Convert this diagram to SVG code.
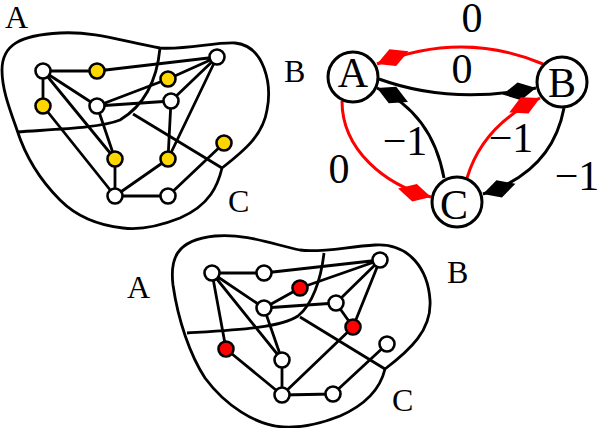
<svg xmlns="http://www.w3.org/2000/svg" width="600" height="428" viewBox="0 0 600 428">
<style>
.bd{fill:none;stroke:#000;stroke-width:2.8}
.e{fill:none;stroke:#000;stroke-width:2.8}
.v{fill:#fff;stroke:#000;stroke-width:2.6}
.y{fill:#FFD700}
.r{fill:#FF0000}
.t{font-family:"Liberation Serif","Times New Roman",serif;fill:#000}
.lab{font-size:32px}
.big{font-size:42px;text-anchor:middle}
.ge{fill:none;stroke-width:3}
.gk{stroke:#000}
.gr{stroke:#FF0000}
.nc{fill:#fff;stroke:#000;stroke-width:3}
</style>
<defs>
<marker id="ak" markerUnits="userSpaceOnUse" viewBox="-36 -11 38 22" refX="0" refY="0" markerWidth="38" markerHeight="22" orient="auto">
<path d="M0,0 L-17,-9 L-34,0 L-17,9 Z" fill="#000"/>
</marker>
<marker id="ar" markerUnits="userSpaceOnUse" viewBox="-36 -11 38 22" refX="0" refY="0" markerWidth="38" markerHeight="22" orient="auto">
<path d="M0,0 L-17,-9 L-34,0 L-17,9 Z" fill="#FF0000"/>
</marker>
</defs>

<!-- top-left partitioned graph -->
<g id="regions-top">
<path class="bd" d="M2,70 C2,45 20,35 60,33 C95,31 125,42 160,48 C185,50 215,42 235,43 C265,46 272,85 267,110 C263,135 245,150 222,168 C218,185 210,205 180,218 C160,226 140,230 123,228 C95,225 75,215 60,200 C40,180 25,155 17,130 C10,110 2,90 2,70 Z"/>
<path class="bd" d="M160,48 C157,80 145,105 120,120 C100,128 60,129 17,132"/>
<path class="bd" d="M133,114 L222,168"/>
</g>
<g id="connectors-top">
<path class="e" d="M43,71 L97,71 M97,71 L217,57 M43,71 L43,106 M43,71 L97,106 M43,71 L115,159 M43,106 L115,196 M97,106 L168,79 M168,79 L217,57 M97,106 L171,101 M97,106 L115,159 M217,57 L171,101 M217,57 L168,159 M171,101 L168,159 M115,159 L115,196 M168,159 L115,196 M115,196 L168,196 M168,196 L224,143"/>
</g>
<g id="t-n1"><circle class="v" cx="43" cy="71" r="7.5"/></g>
<g id="t-n2"><circle class="v y" cx="97" cy="71" r="7.5"/></g>
<g id="t-n3"><circle class="v" cx="217" cy="57" r="7.5"/></g>
<g id="t-n4"><circle class="v y" cx="168" cy="79" r="7.5"/></g>
<g id="t-n5"><circle class="v y" cx="43" cy="106" r="7.5"/></g>
<g id="t-n6"><circle class="v" cx="97" cy="106" r="7.5"/></g>
<g id="t-n7"><circle class="v" cx="171" cy="101" r="7.5"/></g>
<g id="t-n8"><circle class="v y" cx="115" cy="159" r="7.5"/></g>
<g id="t-n9"><circle class="v y" cx="168" cy="159" r="7.5"/></g>
<g id="t-n10"><circle class="v y" cx="224" cy="143" r="7.5"/></g>
<g id="t-n11"><circle class="v" cx="115" cy="196" r="7.5"/></g>
<g id="t-n12"><circle class="v" cx="168" cy="196" r="7.5"/></g>
<text class="t lab" x="5" y="28">A</text>
<text class="t lab" x="284" y="82">B</text>
<text class="t lab" x="228" y="212">C</text>

<!-- bottom partitioned graph -->
<g id="regions-bottom">
<path class="bd" d="M173,285 C170,260 175,240 215,236 C245,233 275,245 300,250 C320,253 345,247 375,245 C410,243 428,270 430,300 C432,330 410,350 385,369 C380,390 365,405 340,416 C320,424 300,428 283,427 C255,425 225,405 205,378 C190,355 178,320 173,285 Z"/>
<path class="bd" d="M324,253 C321,280 312,305 298,316 C280,328 235,330 187,333"/>
<path class="bd" d="M300,317 L385,369"/>
</g>
<g id="connectors-bottom">
<path class="e" d="M212,273 L264,273 M264,273 L380,260 M212,273 L226,349 M212,273 L264,308 M212,273 L282,360 M264,308 L300,288 M300,288 L380,260 M264,308 L336,303 M264,308 L282,360 M336,303 L380,260 M380,260 L353,327 M336,303 L353,327 M353,327 L282,395 M226,349 L282,395 M282,360 L282,395 M282,395 L333,394 M333,394 L387,344"/>
</g>
<g id="b-n1"><circle class="v" cx="212" cy="273" r="7.5"/></g>
<g id="b-n2"><circle class="v" cx="264" cy="273" r="7.5"/></g>
<g id="b-n3"><circle class="v" cx="380" cy="260" r="7.5"/></g>
<g id="b-n4"><circle class="v r" cx="300" cy="288" r="7.5"/></g>
<g id="b-n5"><circle class="v" cx="264" cy="308" r="7.5"/></g>
<g id="b-n6"><circle class="v" cx="336" cy="303" r="7.5"/></g>
<g id="b-n7"><circle class="v r" cx="353" cy="327" r="7.5"/></g>
<g id="b-n8"><circle class="v r" cx="226" cy="349" r="7.5"/></g>
<g id="b-n9"><circle class="v" cx="282" cy="360" r="7.5"/></g>
<g id="b-n10"><circle class="v" cx="387" cy="344" r="7.5"/></g>
<g id="b-n11"><circle class="v" cx="282" cy="395" r="7.5"/></g>
<g id="b-n12"><circle class="v" cx="333" cy="394" r="7.5"/></g>
<text class="t lab" x="127" y="298">A</text>
<text class="t lab" x="447" y="283">B</text>
<text class="t lab" x="392" y="411">C</text>

<!-- right quotient graph -->
<g id="connectors">
<path class="ge gr" d="M543,64 Q462,30 377,64" marker-end="url(#ar)"/>
<path class="ge gk" d="M379,79 Q450,105 536,88" marker-end="url(#ak)"/>
<path class="ge gk" d="M444,178 Q432,113 377,88" marker-end="url(#ak)"/>
<path class="ge gr" d="M467,178 Q483,125 540,98" marker-end="url(#ar)"/>
<path class="ge gr" d="M342,101 C342,150 385,185 431,197" marker-end="url(#ar)"/>
<path class="ge gk" d="M564,108 Q552,172 483,194" marker-end="url(#ak)"/>
</g>
<g id="node-A"><circle class="nc" cx="353" cy="77" r="25"/><text class="t big" x="353" y="87">A</text></g>
<g id="node-B"><circle class="nc" cx="562" cy="82" r="25"/><text class="t big" x="562" y="97">B</text></g>
<g id="node-C"><circle class="nc" cx="457" cy="202" r="25"/><text class="t big" x="454" y="219">C</text></g>
<g id="edge-labels">
<text class="t big" x="472" y="32">0</text>
<text class="t big" x="462" y="83">0</text>
<text class="t big" x="405" y="155">−1</text>
<text class="t big" x="511" y="152">−1</text>
<text class="t big" x="339" y="183">0</text>
<text class="t big" x="577" y="190">−1</text>
</g>
</svg>
